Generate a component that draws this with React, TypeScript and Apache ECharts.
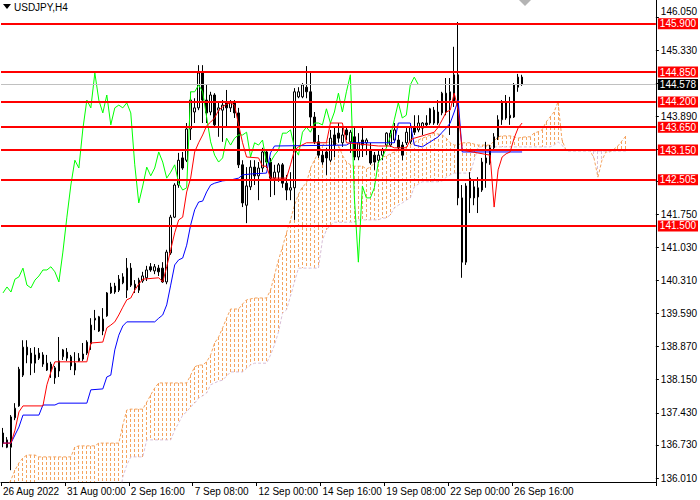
import React, { useEffect, useRef } from "react";
import * as echarts from "echarts";

// ---- chart data ----
const symbolTitle = "USDJPY,H4";
const slotCount = 164; // bar slots across the plot (incl. future cloud)
const xTickEvery = 16;
const xTickLabels = [
  "26 Aug 2022", "31 Aug 00:00", "2 Sep 16:00", "7 Sep 08:00", "12 Sep 00:00",
  "14 Sep 16:00", "19 Sep 08:00", "22 Sep 00:00", "26 Sep 16:00",
];
const yTickValues = [
  136.01, 136.73, 137.43, 138.15, 138.87, 139.59, 140.31, 141.03, 141.75,
  142.47, 143.17, 143.89, 144.61, 145.33, 146.05,
];
// tick labels that are not hidden behind the level labels
const yLabelValues = [
  136.01, 136.73, 137.43, 138.15, 138.87, 139.59, 140.31, 141.03, 141.75,
  143.89, 145.33, 146.05,
];
const yTopLabel = 146.05;
const yMin = 135.923;
const yMax = 146.419;
const levelLines = [145.9, 144.85, 144.2, 143.65, 143.15, 142.505, 141.5];
const currentPrice = 144.578;

const opens = [
  136.99, 136.84, 136.68, 137.32, 137.58, 138.25, 138.86, 138.73, 138.51, 138.73,
  138.69, 138.51, 138.49, 138.19, 138.34, 138.65, 138.75, 138.65, 138.51, 138.56,
  138.60, 138.73, 138.93, 139.45, 139.52, 139.47, 139.54, 140.04, 140.19, 140.10,
  140.26, 140.10, 140.58, 140.23, 140.10, 140.30, 140.37, 140.61, 140.52, 140.58,
  140.58, 140.28, 140.91, 141.69, 142.39, 142.98, 142.93, 143.61, 143.98, 144.07,
  144.83, 144.24, 143.98, 144.35, 144.02, 144.02, 144.18, 144.07, 144.18, 143.96,
  142.83, 141.95, 142.35, 142.78, 142.59, 142.76, 143.11, 142.89, 142.54, 142.67,
  142.83, 142.43, 142.28, 142.33, 144.31, 144.31, 144.52, 144.42, 143.87, 143.33,
  143.04, 143.11, 142.93, 143.48, 143.52, 143.31, 143.59, 143.33, 143.44, 143.00,
  143.37, 143.31, 143.15, 143.04, 142.93, 143.04, 143.26, 143.26, 143.37, 143.37,
  143.26, 143.31, 143.33, 143.65, 143.59, 143.63, 143.74, 143.74, 144.02, 143.74,
  143.96, 144.39, 144.24, 144.20, 144.79, 142.11, 140.71, 142.54, 142.35, 142.13,
  142.28, 142.87, 142.87, 143.20, 143.44, 143.81, 144.18, 143.85, 143.87, 144.52,
  144.74,
];
const highs = [
  137.10, 136.90, 137.38, 137.64, 138.43, 139.01, 139.01, 138.84, 138.86, 138.84,
  138.75, 138.69, 138.54, 138.45, 139.08, 138.82, 138.84, 138.69, 138.75, 138.73,
  138.95, 139.01, 139.49, 139.67, 139.54, 139.71, 140.06, 140.26, 140.26, 140.43,
  140.47, 140.80, 140.69, 140.32, 140.37, 140.50, 140.63, 140.69, 140.67, 140.65,
  140.71, 140.98, 141.74, 142.43, 143.09, 143.11, 143.74, 144.42, 144.28, 145.00,
  145.00, 144.57, 144.42, 144.39, 144.18, 144.24, 144.46, 144.24, 144.24, 144.07,
  142.93, 142.78, 142.93, 142.93, 142.89, 143.20, 143.15, 142.98, 142.83, 142.87,
  142.87, 142.61, 142.67, 144.50, 144.52, 144.61, 144.98, 144.85, 143.98, 143.48,
  143.15, 143.20, 143.59, 143.65, 143.74, 143.63, 143.65, 143.59, 143.65, 143.52,
  143.65, 143.41, 143.31, 143.11, 143.15, 143.20, 143.54, 143.59, 143.74, 143.48,
  143.33, 143.63, 143.74, 143.91, 143.91, 143.76, 143.91, 144.07, 144.09, 144.24,
  144.42, 144.72, 144.72, 145.40, 145.94, 142.39, 142.43, 142.67, 142.50, 142.56,
  142.98, 143.33, 143.26, 143.52, 143.91, 144.24, 144.35, 144.31, 144.61, 144.81,
  144.79,
];
const lows = [
  136.68, 136.66, 136.18, 137.27, 137.56, 138.21, 138.51, 138.25, 138.30, 138.58,
  138.43, 138.34, 138.19, 138.06, 138.21, 138.58, 138.56, 138.36, 138.25, 138.54,
  138.56, 138.69, 138.80, 139.23, 139.19, 139.12, 139.52, 140.02, 140.02, 140.06,
  140.23, 139.93, 140.17, 140.04, 140.04, 140.26, 140.30, 140.50, 140.45, 140.41,
  140.26, 140.23, 140.87, 141.67, 142.33, 142.72, 142.89, 143.37, 143.74, 144.02,
  143.74, 143.74, 143.91, 143.65, 143.44, 143.33, 143.65, 143.98, 143.85, 142.76,
  141.91, 141.56, 142.28, 142.39, 142.06, 142.67, 142.76, 142.13, 142.17, 142.46,
  142.33, 142.06, 142.06, 141.63, 144.28, 144.28, 144.28, 143.65, 143.28, 142.98,
  142.83, 142.61, 142.89, 143.00, 143.31, 143.22, 143.37, 143.09, 142.93, 142.93,
  143.00, 143.04, 142.83, 142.72, 142.87, 142.93, 143.20, 143.22, 143.31, 143.15,
  142.93, 143.26, 143.28, 143.48, 143.54, 143.48, 143.65, 143.70, 143.70, 143.70,
  143.91, 143.91, 143.48, 144.09, 141.95, 140.37, 140.65, 141.78, 141.95, 141.78,
  142.24, 142.33, 142.83, 143.15, 143.37, 143.70, 143.81, 143.70, 143.85, 144.42,
  144.55,
];
const closes = [
  136.77, 136.68, 137.34, 137.53, 138.38, 138.86, 138.69, 138.51, 138.69, 138.62,
  138.49, 138.36, 138.34, 138.41, 138.56, 138.80, 138.62, 138.45, 138.36, 138.62,
  138.71, 138.97, 139.34, 139.49, 139.21, 139.21, 140.04, 140.17, 140.06, 140.34,
  140.39, 140.58, 140.21, 140.15, 140.32, 140.41, 140.54, 140.54, 140.61, 140.50,
  140.28, 140.93, 141.69, 142.39, 142.93, 142.76, 143.61, 144.24, 144.07, 144.83,
  144.24, 143.96, 144.35, 143.70, 144.07, 144.13, 144.07, 144.18, 143.96, 142.83,
  142.00, 142.37, 142.78, 142.59, 142.76, 143.11, 142.89, 142.54, 142.67, 142.83,
  142.43, 142.28, 142.33, 144.42, 144.42, 144.57, 144.42, 143.87, 143.33, 143.04,
  142.89, 142.98, 143.41, 143.26, 143.41, 143.48, 143.48, 143.54, 143.00, 143.31,
  143.26, 143.37, 142.87, 142.89, 143.04, 143.15, 143.52, 143.52, 143.59, 143.20,
  143.04, 143.54, 143.65, 143.54, 143.74, 143.74, 143.70, 144.05, 143.74, 143.98,
  144.39, 143.98, 144.42, 144.79, 142.11, 140.71, 142.37, 142.11, 142.11, 142.33,
  142.89, 142.98, 143.20, 143.44, 143.81, 144.18, 143.85, 143.91, 144.57, 144.74,
  144.578,
];

// Ichimoku lines: [bar index, price] vertices
const tenkan: [number, number][] = [
  [0, 136.77], [2, 136.77], [3, 137.05], [4, 137.45], [5, 137.58], [10, 137.58],
  [11, 138.04], [12, 138.32], [13, 138.54], [21, 138.54], [22, 138.95], [25, 138.97],
  [26, 139.28], [27, 139.34], [28, 139.41], [29, 139.56], [30, 139.73], [31, 139.89],
  [32, 139.93], [33, 140.1], [34, 140.23], [35, 140.34], [39, 140.37], [40, 140.28],
  [41, 140.61], [42, 140.98], [43, 141.35], [44, 141.63], [45, 141.69], [46, 142.24],
  [47, 142.54], [48, 143.11], [49, 143.31], [50, 143.48], [51, 143.68], [52, 143.76],
  [53, 143.85], [54, 144.02], [55, 144.09], [56, 144.15], [57, 144.18], [58, 144.13],
  [59, 143.7], [60, 143.31], [61, 143.0], [64, 142.98], [65, 142.8], [66, 142.8],
  [67, 142.54], [71, 142.54], [72, 142.83], [73, 143.15], [74, 143.22], [76, 143.31],
  [81, 143.31], [82, 143.74], [85, 143.74], [86, 143.31], [94, 143.24], [97, 143.24],
  [98, 143.2], [101, 143.2], [102, 143.37], [103, 143.41], [105, 143.46], [108, 143.54],
  [109, 143.65], [110, 143.81], [111, 143.98], [112, 144.02], [113, 144.39], [114, 144.02],
  [115, 143.15], [122, 143.04], [123, 141.91], [124, 142.72], [125, 143.0], [126, 143.07],
  [127, 143.11], [128, 143.41], [129, 143.63], [130, 143.74],
];
const kijun: [number, number][] = [
  [0, 136.77], [2, 136.77], [4, 137.12], [5, 137.38], [9, 137.38], [10, 137.6],
  [13, 137.6], [14, 137.64], [21, 137.64], [22, 137.93], [25, 137.95], [26, 138.21],
  [27, 138.25], [28, 138.8], [29, 139.12], [30, 139.32], [31, 139.41], [38, 139.41],
  [39, 139.49], [40, 139.56], [41, 139.78], [42, 140.21], [43, 140.65], [44, 140.76],
  [45, 140.8], [46, 141.08], [47, 141.52], [48, 141.85], [49, 142.02], [50, 142.04],
  [51, 142.24], [52, 142.39], [53, 142.43], [55, 142.48], [57, 142.5], [59, 142.54],
  [60, 142.61], [62, 142.63], [66, 142.65], [67, 143.09], [68, 143.24], [86, 143.26],
  [87, 143.31], [98, 143.31], [99, 143.74], [102, 143.74], [103, 143.26], [105, 143.22],
  [107, 143.33], [109, 143.44], [110, 143.54], [111, 143.63], [112, 143.74], [113, 143.98],
  [114, 144.24], [115, 143.11], [130, 143.11],
];
// Senkou spans, one value per bar slot 0..156
const spanA = [
  135.75, 135.81, 135.97, 136.18, 136.34, 136.45, 136.51, 136.51, 136.51, 136.47,
  136.47, 136.47, 136.47, 136.47, 136.47, 136.47, 136.47, 136.47, 136.68, 136.71,
  136.71, 136.71, 136.71, 136.71, 136.77, 136.77, 136.77, 136.77, 136.77, 136.77,
  137.16, 137.49, 137.51, 137.51, 137.51, 137.51, 137.66, 137.82, 137.97, 138.08,
  138.08, 138.08, 138.08, 138.08, 138.08, 138.08, 138.08, 138.25, 138.43, 138.47,
  138.47, 138.54, 138.69, 138.95, 139.08, 139.28, 139.49, 139.69, 139.69, 139.69,
  139.80, 139.89, 139.91, 139.93, 139.93, 139.93, 139.93, 140.10, 140.43, 140.76,
  141.04, 141.35, 141.63, 141.95, 142.19, 142.35, 142.43, 142.76, 142.93, 143.11,
  143.26, 143.31, 143.33, 143.33, 143.26, 143.04, 142.89, 142.83, 142.80, 142.80,
  142.80, 142.74, 142.78, 142.87, 142.96, 143.00, 143.02, 143.07, 143.11, 143.15,
  143.20, 143.22, 143.26, 143.31, 143.37, 143.41, 143.44, 143.48, 143.52, 143.50,
  143.48, 143.41, 143.31, 143.26, 143.26, 143.31, 143.31, 143.31, 143.28, 143.26,
  143.26, 143.26, 143.26, 143.35, 143.44, 143.46, 143.46, 143.46, 143.44, 143.41,
  143.43, 143.44, 143.44, 143.52, 143.55, 143.59, 143.76, 143.87, 143.98, 144.20,
  143.37, 143.15, 143.14, 143.14, 143.14, 143.14, 143.14, 143.14, 142.98, 142.56,
  142.93, 143.11, 143.11, 143.17, 143.24, 143.35, 143.46,
];
const spanB = [
  135.5, 135.5, 135.5, 135.5, 135.5, 135.5, 135.5, 135.5, 135.5, 135.5,
  135.5, 135.5, 135.5, 135.5, 135.5, 135.5, 135.5, 135.5, 135.5, 135.5,
  135.5, 135.5, 135.5, 135.5, 135.5, 135.5, 135.5, 135.5, 135.5, 135.5,
  136.03, 136.29, 136.47, 136.47, 136.47, 136.47, 136.84, 136.84, 136.84, 136.84,
  136.84, 136.84, 136.84, 137.05, 137.21, 137.38, 137.45, 137.56, 137.64, 137.75,
  137.80, 137.86, 138.04, 138.08, 138.12, 138.14, 138.23, 138.32, 138.32, 138.32,
  138.32, 138.40, 138.47, 138.51, 138.51, 138.51, 138.51, 138.69, 138.91, 139.19,
  139.60, 139.67, 139.97, 140.28, 140.58, 140.58, 140.58, 140.58, 140.58, 140.58,
  141.19, 141.41, 141.52, 141.58, 141.58, 141.58, 141.58, 141.58, 141.58, 141.63,
  141.63, 141.63, 141.63, 141.63, 141.63, 141.67, 141.67, 141.74, 141.89, 141.95,
  142.00, 142.06, 142.11, 142.35, 142.41, 142.46, 142.46, 142.46, 142.46, 142.46,
  142.48, 142.56, 142.61, 142.65, 142.65, 142.65, 142.65, 142.65, 142.93, 143.22,
  143.22, 143.22, 143.22, 143.22, 143.22, 143.22, 143.22, 143.22, 143.22, 143.22,
  143.22, 143.22, 143.22, 143.22, 143.22, 143.22, 143.22, 143.22, 143.26, 143.33,
  143.26, 143.13, 143.13, 143.13, 143.13, 143.13, 143.13, 143.13, 143.13, 143.13,
  143.13, 143.13, 143.13, 143.13, 143.13, 143.13, 143.13,
];
const chikouShift = 26;

const FONT = "'Liberation Sans', 'DejaVu Sans', sans-serif";
const SPAN_A_COLOR = "#F4A460";
const SPAN_B_COLOR = "#D8BFD8";

export default function App() {
  const ref = useRef<HTMLDivElement>(null);

  useEffect(() => {
    if (!ref.current) return;
    const chart = echarts.init(ref.current, null, { renderer: "svg" });

    const categories = Array.from({ length: slotCount }, (_, i) =>
      i % xTickEvery === 0 && i / xTickEvery < xTickLabels.length
        ? xTickLabels[i / xTickEvery]
        : ""
    );
    const showTick = (i: number) =>
      i % xTickEvery === 0 && i / xTickEvery < xTickLabels.length;

    const candleData = opens.map((o, i) => [o, closes[i], lows[i], highs[i]]);
    const chikou = closes.slice(chikouShift).map((c, i) => [i, c]);
    const cloudData = spanA.map((a, i) => [i, a, spanB[i]]);

    const lineBase = {
      type: "line",
      symbol: "none",
      silent: true,
      animation: false,
    };

    const markData: any[] = [
      {
        yAxis: currentPrice,
        lineStyle: { color: "#C0C0C0", width: 1, type: "solid" },
        label: { backgroundColor: "#000000" },
      },
      ...levelLines.map((v) => ({
        yAxis: v,
        lineStyle: { color: "#FF0000", width: 2, type: "solid" },
        label: { backgroundColor: "#FF0000" },
      })),
    ];

    const option: any = {
      animation: false,
      backgroundColor: "#FFFFFF",
      textStyle: { fontFamily: FONT },
      grid: { left: 0, right: 43, top: 0, bottom: 18, containLabel: false },
      xAxis: {
        type: "category",
        data: categories,
        boundaryGap: true,
        axisLine: { show: true, lineStyle: { color: "#000000", width: 1 } },
        axisTick: {
          show: true,
          interval: (i: number) => showTick(i),
          length: 4,
          lineStyle: { color: "#000000" },
        },
        axisLabel: {
          interval: (i: number) => showTick(i),
          align: "left",
          color: "#000000",
          fontSize: 10,
          fontFamily: FONT,
          margin: 4,
        },
        splitLine: { show: false },
      },
      yAxis: {
        type: "value",
        position: "right",
        min: yMin,
        max: yMax,
        axisLine: { show: true, lineStyle: { color: "#000000", width: 1 } },
        axisTick: {
          show: true,
          length: 3,
          customValues: yTickValues,
          lineStyle: { color: "#000000" },
        },
        axisLabel: {
          customValues: yLabelValues,
          formatter: (v: number) =>
            Math.abs(v - yTopLabel) < 1e-6
              ? `{top|${v.toFixed(3)}}`
              : v.toFixed(3),
          rich: {
            top: {
              fontSize: 10,
              fontFamily: FONT,
              color: "#000000",
              padding: [0, 0, 11, 0],
            },
          },
          color: "#000000",
          fontSize: 10,
          fontFamily: FONT,
          margin: 5,
        },
        splitLine: { show: false },
      },
      series: [
        {
          type: "custom",
          name: "cloud",
          data: cloudData,
          clip: true,
          silent: true,
          z: 1,
          encode: { x: 0, y: [1, 2] },
          renderItem: (params: any, api: any) => {
            const idx = params.dataIndex;
            const a = spanA[idx];
            const b = spanB[idx];
            const pa = api.coord([idx, a]);
            const pb = api.coord([idx, b]);
            const x = Math.floor(pa[0]);
            const top = Math.round(Math.min(pa[1], pb[1]));
            const bottom = Math.round(Math.max(pa[1], pb[1]));
            const fill = a >= b ? SPAN_A_COLOR : SPAN_B_COLOR;
            const children: any[] = [];
            for (let y = top; y < bottom; y += 5) {
              children.push({
                type: "rect",
                shape: { x, y, width: 1, height: Math.min(3, bottom - y) },
                style: { fill },
              });
            }
            return { type: "group", children };
          },
        },
        {
          ...lineBase,
          name: "spanA",
          data: spanA.map((v, i) => [i, v]),
          z: 2,
          lineStyle: { color: SPAN_A_COLOR, width: 1, type: [3, 2] },
        },
        {
          ...lineBase,
          name: "spanB",
          data: spanB.map((v, i) => [i, v]),
          z: 2,
          lineStyle: { color: SPAN_B_COLOR, width: 1, type: [3, 2] },
        },
        {
          type: "candlestick",
          name: "USDJPY",
          data: candleData,
          barWidth: 2,
          silent: true,
          z: 3,
          itemStyle: {
            color: "#FFFFFF",
            color0: "#000000",
            borderColor: "#000000",
            borderColor0: "#000000",
            borderWidth: 1,
          },
        },
        {
          ...lineBase,
          name: "chikou",
          data: chikou,
          z: 4,
          lineStyle: { color: "#00FF00", width: 1 },
        },
        {
          ...lineBase,
          name: "kijun",
          data: kijun,
          z: 4,
          lineStyle: { color: "#0000FF", width: 1 },
        },
        {
          ...lineBase,
          name: "tenkan",
          data: tenkan,
          z: 4,
          lineStyle: { color: "#FF0000", width: 1 },
        },
        {
          ...lineBase,
          name: "levels",
          data: [],
          z: 10,
          markLine: {
            silent: true,
            animation: false,
            symbol: ["none", "none"],
            precision: 3,
            label: {
              show: true,
              position: "end",
              distance: 2,
              color: "#FFFFFF",
              fontSize: 10,
              fontFamily: FONT,
              padding: [1, 2, 0, 2],
              formatter: (p: any) => Number(p.value).toFixed(3),
            },
            data: markData,
          },
        },
      ],
      graphic: [
        {
          type: "polygon",
          shape: { points: [[3, 4], [11, 4], [7, 9]] },
          style: { fill: "#000000" },
          z: 100,
        },
        {
          type: "text",
          x: 14,
          y: 2,
          style: {
            text: symbolTitle,
            fill: "#000000",
            font: `10px ${FONT}`,
          },
          z: 100,
        },
        {
          type: "polygon",
          shape: { points: [[519, 0], [531, 0], [525, 6]] },
          style: { fill: "#B4B4B4" },
          z: 100,
        },
      ],
    };

    chart.setOption(option);
    return () => chart.dispose();
  }, []);

  return (
    <div
      ref={ref}
      style={{
        position: "fixed",
        left: 0,
        top: 0,
        width: 700,
        height: 500,
        background: "#FFFFFF",
      }}
    />
  );
}
